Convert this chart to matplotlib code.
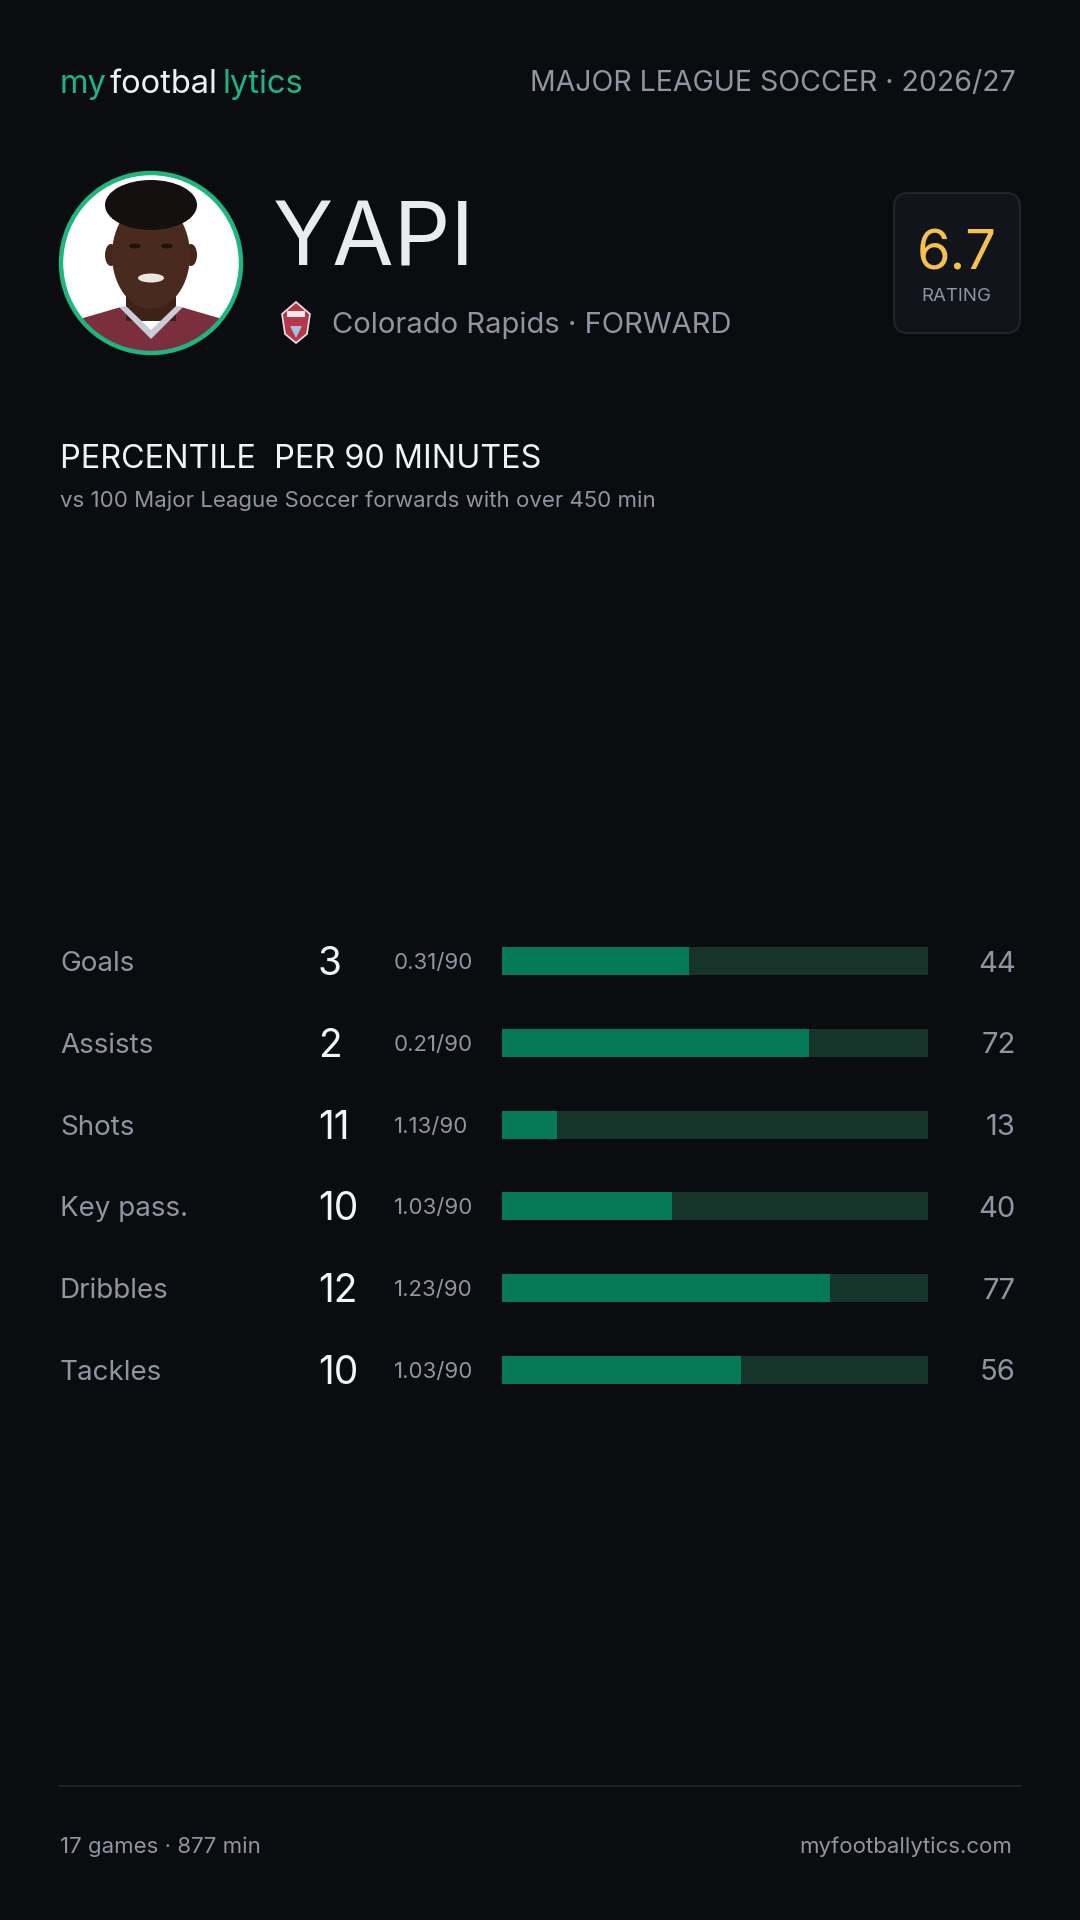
import matplotlib
matplotlib.use("Agg")
import matplotlib.pyplot as plt
from matplotlib.patches import FancyBboxPatch, Circle, Ellipse, Polygon, Rectangle

# ---------------- data ----------------
metrics = ["Goals", "Assists", "Shots", "Key pass.", "Dribbles", "Tackles"]
counts = [3, 2, 11, 10, 12, 10]
per90 = ["0.31/90", "0.21/90", "1.13/90", "1.03/90", "1.23/90", "1.03/90"]
percentiles = [44, 72, 13, 40, 77, 56]

player_name = "YAPI"
team_line = "Colorado Rapids \u00b7 FORWARD"
league_line = "MAJOR LEAGUE SOCCER \u00b7 2026/27"
rating = "6.7"
title = "PERCENTILE  PER 90 MINUTES"
subtitle = "vs 100 Major League Soccer forwards with over 450 min"
footer_left = "17 games \u00b7 877 min"
footer_right = "myfootballytics.com"

# ---------------- style ----------------
plt.rcParams['font.family'] = ['Inter', 'DejaVu Sans']
BG = "#0a0c10"
GRAY = "#8e96a2"
WHITE = "#eef0f3"
GREEN = "#1db67f"
TRACK = "#16342a"
FILL = "#067a56"

W, H = 1080, 1920
fig = plt.figure(figsize=(W / 100, H / 100), dpi=100, facecolor=BG)
ov = fig.add_axes([0, 0, 1, 1])
ov.set_xlim(0, W)
ov.set_ylim(H, 0)
ov.axis("off")
ov.set_facecolor(BG)

# ---------------- header ----------------
renderer = fig.canvas.get_renderer()
x = 60
for part, col, gap in [("my", GREEN, 3), ("footbal", WHITE, 5), ("lytics", GREEN, 0)]:
    t = ov.text(x, 93, part, fontsize=23.5, color=col, va="baseline", ha="left")
    bb = t.get_window_extent(renderer)
    x += bb.width + gap

ov.text(1016, 91, league_line, fontsize=20.5, color=GRAY, ha="right", va="baseline")

# ---------------- photo ----------------
cx, cy, r = 151, 263, 90
clip = Circle((cx, cy), r, transform=ov.transData)
ov.add_patch(Circle((cx, cy), r, facecolor="white", edgecolor="none", zorder=2))
shirt = Polygon([(cx - 95, cy + 95), (cx - 85, cy + 60), (cx - 30, cy + 44), (cx, cy + 72),
                 (cx + 30, cy + 44), (cx + 85, cy + 60), (cx + 95, cy + 95)],
                closed=True, facecolor="#7b2f3c", edgecolor="none", zorder=3)
ov.add_patch(shirt)
shirt.set_clip_path(clip)
collar = Polygon([(cx - 32, cy + 44), (cx, cy + 76), (cx + 32, cy + 44), (cx + 25, cy + 43),
                  (cx, cy + 67), (cx - 25, cy + 43)], closed=True,
                 facecolor="#c9ccd6", edgecolor="none", zorder=4)
ov.add_patch(collar)
collar.set_clip_path(clip)
neck = Rectangle((cx - 25, cy + 10), 50, 48, facecolor="#3d2219", edgecolor="none", zorder=3.5)
ov.add_patch(neck)
neck.set_clip_path(clip)
ov.add_patch(Ellipse((cx - 40, cy - 8), 12, 22, facecolor="#44261b", edgecolor="none", zorder=4.8))
ov.add_patch(Ellipse((cx + 40, cy - 8), 12, 22, facecolor="#44261b", edgecolor="none", zorder=4.8))
ov.add_patch(Ellipse((cx, cy - 8), 78, 108, facecolor="#4a2a1f", edgecolor="none", zorder=5))
hair = Ellipse((cx, cy - 58), 92, 50, facecolor="#141010", edgecolor="none", zorder=6)
ov.add_patch(hair)
ov.add_patch(Rectangle((cx - 39, cy - 62), 78, 18, facecolor="#141010", edgecolor="none", zorder=6))
ov.add_patch(Ellipse((cx, cy + 15), 26, 9, facecolor="#ece6e0", edgecolor="none", zorder=7))
ov.add_patch(Ellipse((cx - 16, cy - 17), 12, 5, facecolor="#1e120d", edgecolor="none", zorder=7))
ov.add_patch(Ellipse((cx + 16, cy - 17), 12, 5, facecolor="#1e120d", edgecolor="none", zorder=7))
ring = Circle((cx, cy), r, facecolor="none", edgecolor=GREEN, linewidth=3.2, zorder=8)
ov.add_patch(ring)

# ---------------- name & team ----------------
ov.text(273, 265, player_name, fontsize=64, color="#e9ebef", ha="left", va="baseline")
badge = Polygon([(296, 302), (310, 314), (307, 334), (296, 343), (285, 334), (282, 314)],
                closed=True, facecolor="#b8364c", edgecolor="#e6e6ea", linewidth=1.2, zorder=3)
ov.add_patch(badge)
ov.add_patch(Polygon([(290, 326), (302, 326), (296, 338)], closed=True,
                     facecolor="#9fc3dc", edgecolor="none", zorder=4))
ov.add_patch(Rectangle((287, 311), 18, 6, facecolor="#f1e9ea", edgecolor="none", zorder=4))
ov.text(332, 333, team_line, fontsize=21, color=GRAY, ha="left", va="baseline")

# ---------------- rating box ----------------
ov.add_patch(FancyBboxPatch((894, 193), 126, 140, boxstyle="round,pad=0,rounding_size=14",
                            facecolor="#11151b", edgecolor="#20252c", linewidth=1.5, zorder=2))
ov.text(957, 269, rating, fontsize=39, color="#f4c04e", ha="center", va="baseline", zorder=3)
ov.text(956, 301, "RATING", fontsize=13.5, color=GRAY, ha="center", va="baseline", zorder=3)

# ---------------- section title ----------------
ov.text(60, 468, title, fontsize=23.3, color="#f0f2f5", ha="left", va="baseline")
ov.text(60, 507, subtitle, fontsize=16, color=GRAY, ha="left", va="baseline")

# ---------------- rows ----------------
row0, step = 961, 81.8
n = len(metrics)
top_px = row0 - step / 2
bot_px = row0 + step * (n - 1) + step / 2
bx0, bx1 = 502, 928
bar_ax = fig.add_axes([bx0 / W, 1 - bot_px / H, (bx1 - bx0) / W, (bot_px - top_px) / H])
bar_ax.set_xlim(0, 100)
bar_ax.set_ylim(n - 0.5, -0.5)
bar_ax.axis("off")
bar_ax.patch.set_alpha(0)
idx = list(range(n))
bh = 28 / step
bar_ax.barh(idx, [100] * n, height=bh, color=TRACK, edgecolor="none")
bar_ax.barh(idx, percentiles, height=bh, color=FILL, edgecolor="none")

for i in range(n):
    y = row0 + i * step
    ov.text(60, y + 10, metrics[i], fontsize=20, color=GRAY, ha="left", va="baseline")
    ov.text(318, y + 14, str(counts[i]), fontsize=28, color="#f3f4f6", ha="left", va="baseline")
    ov.text(394, y + 8, per90[i], fontsize=16, color=GRAY, ha="left", va="baseline")
    ov.text(1016, y + 10.5, str(percentiles[i]), fontsize=21, color=GRAY, ha="right",
            va="baseline")

# ---------------- footer ----------------
ov.plot([60, 1020], [1786, 1786], color="#1e282e", linewidth=1.2)
ov.text(60, 1853, footer_left, fontsize=16, color=GRAY, ha="left", va="baseline")
ov.text(1012, 1853, footer_right, fontsize=16, color=GRAY, ha="right", va="baseline")

fig.savefig("out.png", dpi=100, facecolor=BG)
